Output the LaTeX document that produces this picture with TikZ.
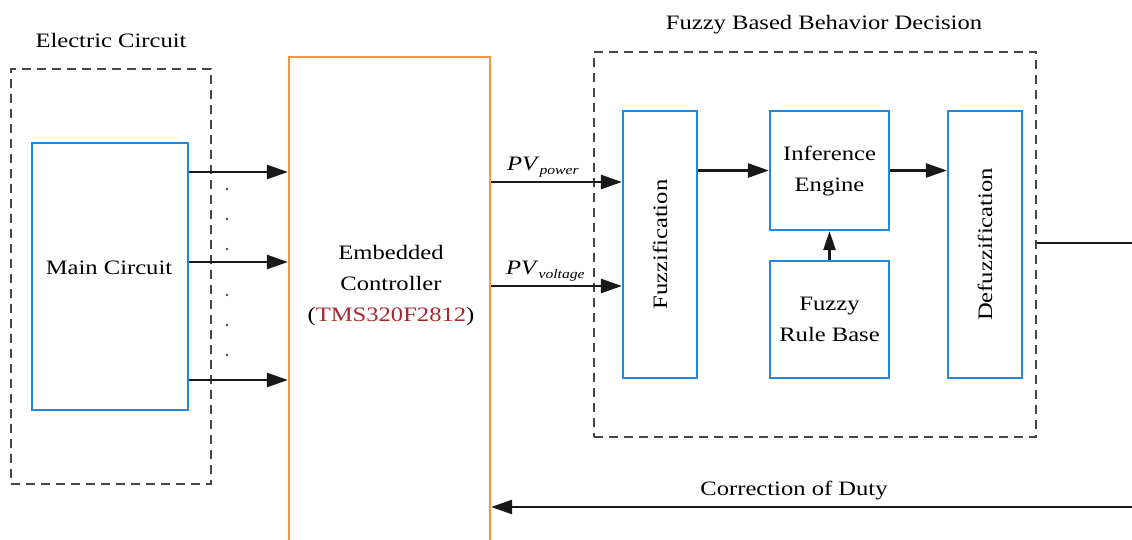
\documentclass[tikz,border=0pt]{standalone}
\usepackage{fontspec}
\setmainfont{Liberation Serif}[FakeStretch=1.2]
\usetikzlibrary{arrows.meta}
\definecolor{boxblue}{RGB}{35,135,225}
\definecolor{ctrlorange}{RGB}{245,150,70}
\definecolor{chipred}{RGB}{165,40,45}
\definecolor{groupgray}{RGB}{70,70,70}
\begin{document}
\begin{tikzpicture}[x=1pt,y=-1pt,
  group/.style={draw=groupgray, line width=1.8pt, dash pattern=on 9pt off 6pt, inner sep=0pt},
  block/.style={draw=boxblue, line width=2.2pt, inner sep=0pt, align=center,
    font=\fontsize{20.5}{31}\selectfont},
  ctrlbox/.style={draw=ctrlorange, line width=2.2pt, inner sep=0pt},
  txt/.style={font=\fontsize{20.5}{31}\selectfont, align=center, inner sep=0pt},
  flow/.style={-{Triangle[length=21pt,width=14pt]}, line width=2.6pt, black!90},
  plain/.style={line width=2.6pt, black!90},
  dot/.style={circle, fill=black!70, inner sep=0pt, minimum size=2.6pt}]

\clip (0,0) rectangle (1132,540);

% Electric circuit group
\node[group, minimum width=200pt, minimum height=415pt] (egroup) at (111,276.5) {};
\node[txt, anchor=base] (egrouplbl) at (111,48) {Electric Circuit};
\node[block, minimum width=156pt, minimum height=267pt] (main) at (110,276.5) {};
\node[txt] (maintxt) at (109,268) {Main Circuit};

% Embedded controller (runs past the lower edge)
\node[ctrlbox, minimum width=201pt, minimum height=503pt] (ctrl) at (389.5,308.5) {};
\node[txt] (ctrltxt) at (391,286) {Embedded\\Controller\\(\textcolor{chipred}{TMS320F2812})};

% Signals from the circuit to the controller
\foreach \yy/\nm in {172/a,262/b,380/c}{
  \coordinate (s\nm) at (0,\yy);
  \draw[flow] (main.east |- s\nm) -- (ctrl.west |- s\nm);
}
\foreach \yy [count=\i] in {189,219,249,295,325,355}{
  \node[dot] (d\i) at (227,\yy) {};
}

% Fuzzy decision group
\node[group, minimum width=442pt, minimum height=385pt] (fgroup) at (815,244.5) {};
\node[txt, anchor=base] (fgrouplbl) at (824,30) {Fuzzy Based Behavior Decision};
\node[block, minimum width=74pt, minimum height=267pt] (fuzz) at (660,244.5) {};
\node[txt, rotate=90] (fuzztxt) at (fuzz.center) {Fuzzification};
\node[block, minimum width=119pt, minimum height=119pt] (inf) at (829.5,170.5) {Inference\\Engine};
\node[block, minimum width=119pt, minimum height=117pt] (rule) at (829.5,319.5) {Fuzzy\\Rule Base};
\node[block, minimum width=74pt, minimum height=267pt] (defuzz) at (985,244.5) {};
\node[txt, rotate=90] (defuzztxt) at (defuzz.center) {Defuzzification};

% Inputs to the fuzzifier
\coordinate (pvp) at (0,182);
\coordinate (pvv) at (0,286);
\draw[flow] (ctrl.east |- pvp) -- (fuzz.west |- pvp);
\draw[flow] (ctrl.east |- pvv) -- (fuzz.west |- pvv);
\node[txt, anchor=base west] (pvplbl) at (507,171)
  {\textit{PV}\raisebox{-4pt}{\fontsize{13}{13}\selectfont\itshape power}};
\node[txt, anchor=base west] (pvvlbl) at (506,274)
  {\textit{PV}\raisebox{-4pt}{\fontsize{13}{13}\selectfont\itshape voltage}};

% Inner fuzzy flow
\draw[flow] (fuzz.east |- inf.west) -- (inf.west);
\draw[flow] (inf.east) -- (defuzz.west |- inf.east);
\draw[flow, -{Triangle[length=19pt,width=12pt]}] (rule.north) -- (inf.south);

% Output and feedback
\coordinate (outR) at (1140,243);
\draw[plain] (fgroup.east |- outR) -- (outR);
\coordinate (fbR) at (1140,507);
\draw[flow] (fbR) -- (ctrl.east |- fbR);
\node[txt, anchor=base] (fblbl) at (794,495) {Correction of Duty};
\end{tikzpicture}
\end{document}
